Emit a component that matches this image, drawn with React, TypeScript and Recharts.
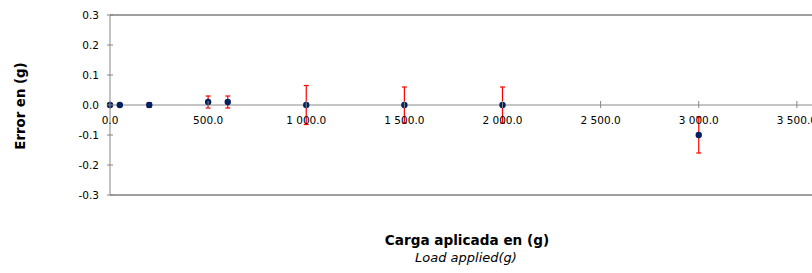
import {
  ErrorBar,
  ReferenceLine,
  Scatter,
  ScatterChart,
  XAxis,
  YAxis,
} from "recharts";

const loads = [0, 50, 200, 500, 600, 1000, 1500, 2000, 3000];
const errors = [0, 0, 0, 0.01, 0.01, 0, 0, 0, -0.1];
const uncertainty = [0.005, 0.005, 0.008, 0.02, 0.02, 0.065, 0.06, 0.06, 0.06];
const xTicks = [0, 500, 1000, 1500, 2000, 2500, 3000, 3500, 4000];
const yTicks = [-0.3, -0.2, -0.1, 0, 0.1, 0.2, 0.3];

const data = loads.map((load, i) => ({
  load,
  error: errors[i],
  u: uncertainty[i],
}));

const CHART_W = 900;
const CHART_H = 273;
const MARGIN = { top: 15, right: 5, bottom: 77, left: 10 };
const X_AXIS_H = 1;
const PLOT_H = CHART_H - MARGIN.top - MARGIN.bottom - X_AXIS_H;

const FONT = "'DejaVu Sans', Verdana, sans-serif";
const axisGray = "#868686";
const borderDark = "#404040";
const pointColor = "#002060";

const fmt = (v: number) => {
  const s = Math.abs(v).toFixed(1);
  const [int, dec] = s.split(".");
  const grouped = int.replace(/\B(?=(\d{3})+(?!\d))/g, " ");
  return (v < 0 ? "-" : "") + grouped + "." + dec;
};

function YTick(props: any) {
  const { x, y, payload } = props;
  return (
    <g>
      <line x1={x - 3} x2={x + 3} y1={y} y2={y} stroke={axisGray} />
      <text
        x={x - 11}
        y={y}
        dy={4}
        textAnchor="end"
        fontSize={10.5}
        fontFamily={FONT}
        fill="#000"
      >
        {fmt(payload.value)}
      </text>
    </g>
  );
}

function XTick(props: any) {
  const { x, y, payload } = props;
  // x axis labels sit on the zero line, half way up the plot
  const zeroY = y - PLOT_H / 2;
  return (
    <g>
      <line x1={x} x2={x} y1={zeroY - 4} y2={zeroY + 3} stroke={axisGray} />
      <text
        x={x}
        y={zeroY + 19}
        textAnchor="middle"
        fontSize={10.5}
        fontFamily={FONT}
        fill="#000"
      >
        {fmt(payload.value)}
      </text>
    </g>
  );
}

export default function App() {
  return (
    <div
      style={{
        position: "fixed",
        left: 0,
        top: 0,
        width: 812,
        height: 273,
        overflow: "hidden",
        background: "#fff",
        fontFamily: FONT,
      }}
    >
      <ScatterChart width={CHART_W} height={CHART_H} margin={MARGIN}>
        <XAxis
          type="number"
          dataKey="load"
          domain={[0, 4000]}
          ticks={xTicks}
          height={X_AXIS_H}
          tickSize={0}
          tickMargin={0}
          tickLine={false}
          axisLine={{ stroke: borderDark }}
          tick={<XTick />}
          interval={0}
        />
        <YAxis
          type="number"
          dataKey="error"
          domain={[-0.3, 0.3]}
          ticks={yTicks}
          width={100}
          tickSize={0}
          tickMargin={0}
          tickLine={false}
          axisLine={{ stroke: axisGray }}
          tick={<YTick />}
          interval={0}
        />
        <ReferenceLine y={0} stroke="#b0b0b0" strokeWidth={1.5} />
        <ReferenceLine y={0.3} stroke={borderDark} />
        <Scatter
          data={data}
          fill={pointColor}
          isAnimationActive={false}
          shape={(p: any) => <circle cx={p.cx} cy={p.cy} r={3.2} fill={pointColor} />}
        >
          <ErrorBar dataKey="u" direction="y" stroke="#ff0000" width={2.5} strokeWidth={1.2} />
        </Scatter>
      </ScatterChart>
      <div
        style={{
          position: "absolute",
          left: 20,
          top: 106,
          transform: "translate(-50%, -50%) rotate(-90deg)",
          fontWeight: "bold",
          fontSize: 13.3,
          whiteSpace: "nowrap",
        }}
      >
        Error en (g)
      </div>
      <div
        style={{
          position: "absolute",
          left: 467,
          top: 240,
          transform: "translate(-50%, -50%)",
          fontWeight: "bold",
          fontSize: 13.6,
          whiteSpace: "nowrap",
        }}
      >
        Carga aplicada en (g)
      </div>
      <div
        style={{
          position: "absolute",
          left: 466,
          top: 257,
          transform: "translate(-50%, -50%)",
          fontStyle: "italic",
          fontSize: 13,
          whiteSpace: "nowrap",
        }}
      >
        Load applied(g)
      </div>
    </div>
  );
}
